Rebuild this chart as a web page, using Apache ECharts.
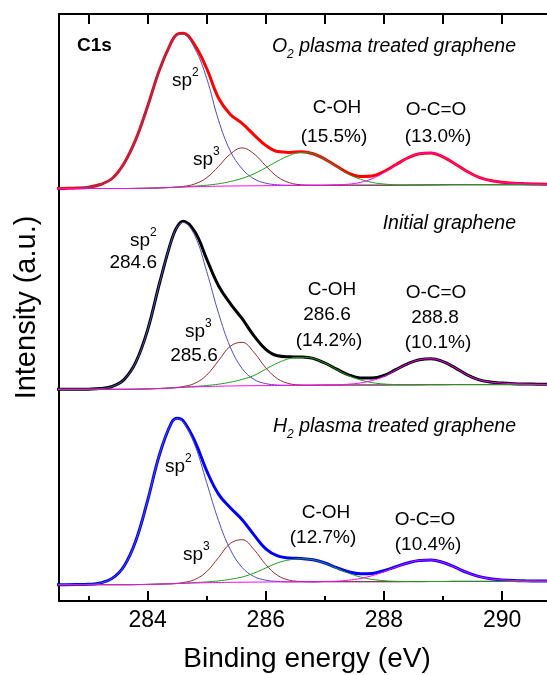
<!DOCTYPE html>
<html>
<head>
<meta charset="utf-8">
<script src="https://cdn.jsdelivr.net/npm/echarts@6.0.0/dist/echarts.min.js"></script>
<style>
  html, body { margin: 0; background: #fff; }
  #chart { width: 547px; height: 675px; }
</style>
</head>
<body>
<div id="chart"></div>
<script>
// binding energy grid (eV)
const energy = [282.4, 282.6, 282.8, 283.0, 283.2, 283.4, 283.6, 283.8, 284.0, 284.2,
  284.4, 284.5, 284.6, 284.8, 285.0, 285.2, 285.4, 285.6, 285.8, 286.0, 286.2,
  286.4, 286.6, 286.8, 287.0, 287.2, 287.4, 287.6, 287.8, 288.0, 288.2,
  288.4, 288.6, 288.8, 289.0, 289.2, 289.4, 289.6, 289.8, 290.0, 290.2,
  290.4, 290.6, 290.8, 291.0, 291.2]

// vertical offset of each spectrum (a.u.): O2, initial, H2
const stackOffsets = [412.5, 211.7, 16.3]

// Shirley backgrounds
const bgO2 = [0, 0, 0, 0, 0, 0, 0, 0.1, 0.3, 0.6, 1.0, 1.2, 1.4, 1.8, 2.1, 2.3, 2.5, 2.6, 2.7, 2.8, 2.9,
  3.0, 3.1, 3.2, 3.2, 3.3, 3.3, 3.3, 3.3, 3.3, 3.3, 3.4, 3.5, 3.6, 3.7, 3.8, 3.8, 3.8, 3.8, 3.8, 3.8,
  3.8, 3.8, 3.8, 3.8, 3.8]
const bgInitial = [0, 0, 0, 0, 0, 0, 0, 0.1, 0.4, 0.8, 1.3, 1.6, 1.9, 2.4, 2.8, 3.1, 3.3, 3.5, 3.6, 3.7, 3.8,
  3.9, 4.0, 4.1, 4.2, 4.2, 4.3, 4.3, 4.3, 4.3, 4.4, 4.4, 4.5, 4.6, 4.6, 4.7, 4.7, 4.7, 4.7, 4.7, 4.7,
  4.7, 4.7, 4.7, 4.7, 4.7]
const bgH2 = [0, 0, 0, 0, 0, 0, 0, 0.1, 0.3, 0.6, 0.9, 1.1, 1.3, 1.7, 2.0, 2.2, 2.4, 2.5, 2.6, 2.7, 2.8,
  2.8, 2.9, 2.9, 3.0, 3.0, 3.0, 3.0, 3.0, 3.0, 3.0, 3.1, 3.1, 3.2, 3.2, 3.3, 3.3, 3.3, 3.3, 3.3, 3.3,
  3.3, 3.3, 3.3, 3.3, 3.3]

// O2 plasma treated graphene
const envO2 = [0, 0.1, 0.4, 1.3, 4, 10, 25, 49, 82, 118, 145.2, 153, 153.9, 141.4, 117.9, 88.2, 71.5, 62.5, 51, 40.3, 34,
  33.1, 33.7, 31.6, 26.2, 18.9, 12, 8.8, 9.3, 13.7, 20.4, 27.1, 31.3, 32, 28, 21, 13.5, 7.5, 4.2, 2.5, 1.5,
  1, 0.6, 0.4, 0.2, 0.1]
const sp2O2 = [0, 0.1, 0.4, 1.3, 4, 10, 25, 49, 82, 118, 145, 152.5, 153, 138, 108, 66, 35, 17, 7, 2.5, 0.8,
  0.3, 0.1, 0, 0, 0, 0, 0, 0, 0, 0, 0, 0, 0, 0, 0, 0, 0, 0, 0, 0,
  0, 0, 0, 0, 0]
const sp3O2 = [0, 0, 0, 0, 0, 0, 0, 0, 0, 0, 0.1, 0.3, 0.6, 2.8, 8.7, 19.8, 32, 38, 32, 19.8, 8.7,
  2.8, 0.6, 0.1, 0, 0, 0, 0, 0, 0, 0, 0, 0, 0, 0, 0, 0, 0, 0, 0, 0,
  0, 0, 0, 0, 0]
const cohO2 = [0, 0, 0, 0, 0, 0, 0, 0, 0, 0, 0.1, 0.2, 0.3, 0.6, 1.2, 2.4, 4.5, 7.5, 12, 18, 24.5,
  30, 33, 31.5, 26, 18.5, 11, 6, 2.8, 1.2, 0.4, 0.1, 0, 0, 0, 0, 0, 0, 0, 0, 0,
  0, 0, 0, 0, 0]
const ocoO2 = [0, 0, 0, 0, 0, 0, 0, 0, 0, 0, 0, 0, 0, 0, 0, 0, 0, 0, 0, 0, 0,
  0, 0, 0, 0.15, 0.4, 1, 2.8, 6.5, 12.5, 20, 27, 31.3, 32, 28, 21, 13.5, 7.5, 4.2, 2.5, 1.5,
  1, 0.6, 0.4, 0.2, 0.1]

// initial graphene
const envInitial = [0, 0, 0, 0.15, 0.7, 2.8, 9.7, 27, 59, 105, 147.1, 160.9, 166.1, 155.1, 127.4, 100.5, 82.4, 67.1, 49.8, 36.3, 29.7,
  28.6, 28.3, 26.8, 22.1, 16, 10.2, 7.1, 6.9, 9.5, 15.3, 21.1, 25, 26, 23, 17, 10, 5, 2.6, 1.5, 0.9,
  0.6, 0.4, 0.3, 0.2, 0.1]
const sp2Initial = [0, 0, 0, 0.15, 0.7, 2.8, 9.7, 27, 59, 105, 147, 160.4, 165, 151, 115, 73, 38.8, 17.2, 6.3, 2, 0.5,
  0.1, 0, 0, 0, 0, 0, 0, 0, 0, 0, 0, 0, 0, 0, 0, 0, 0, 0, 0, 0,
  0, 0, 0, 0, 0]
const sp3Initial = [0, 0, 0, 0, 0, 0, 0, 0, 0, 0, 0.1, 0.3, 0.8, 3.6, 11.4, 25.5, 39.8, 43.5, 33.3, 17.8, 6.7,
  1.7, 0.3, 0, 0, 0, 0, 0, 0, 0, 0, 0, 0, 0, 0, 0, 0, 0, 0, 0, 0,
  0, 0, 0, 0, 0]
const cohInitial = [0, 0, 0, 0, 0, 0, 0, 0, 0, 0, 0, 0.2, 0.3, 0.5, 1, 2, 3.8, 6.4, 10.2, 16.5, 22.5,
  26.8, 28, 26.8, 22, 15.7, 9.4, 5.1, 2.4, 1, 0.3, 0.1, 0, 0, 0, 0, 0, 0, 0, 0, 0,
  0, 0, 0, 0, 0]
const ocoInitial = [0, 0, 0, 0, 0, 0, 0, 0, 0, 0, 0, 0, 0, 0, 0, 0, 0, 0, 0, 0, 0,
  0, 0, 0, 0.1, 0.3, 0.8, 2, 4.5, 8.5, 15, 21, 25, 26, 23, 17, 10, 5, 2.6, 1.5, 0.9,
  0.6, 0.4, 0.3, 0.2, 0.1]

// H2 plasma treated graphene
const envH2 = [0, 0, 0.1, 0.4, 1.7, 6.3, 18.5, 43.9, 84, 129.4, 160.7, 165.4, 162.7, 141.7, 111.9, 88.4, 74.6, 62.4, 47.2, 33.2, 26,
  23.8, 23.3, 22, 18.7, 14, 10, 7.9, 8.3, 11, 14.9, 18.6, 21.2, 21.5, 19, 14.2, 9, 5, 2.6, 1.5, 0.9,
  0.6, 0.4, 0.3, 0.2, 0.1]
const sp2H2 = [0, 0, 0.1, 0.4, 1.7, 6.3, 18.5, 43.9, 84, 129.4, 160.6, 165, 161.7, 137.8, 100, 61.9, 32.7, 14.7, 5.6, 1.8, 0.5,
  0.1, 0, 0, 0, 0, 0, 0, 0, 0, 0, 0, 0, 0, 0, 0, 0, 0, 0, 0, 0,
  0, 0, 0, 0, 0]
const sp3H2 = [0, 0, 0, 0, 0, 0, 0, 0, 0, 0, 0.1, 0.3, 0.8, 3.5, 11.1, 24.9, 38.9, 42.5, 32.6, 17.4, 6.5,
  1.7, 0.3, 0, 0, 0, 0, 0, 0, 0, 0, 0, 0, 0, 0, 0, 0, 0, 0, 0, 0,
  0, 0, 0, 0, 0]
const cohH2 = [0, 0, 0, 0, 0, 0, 0, 0, 0, 0, 0, 0.1, 0.2, 0.4, 0.8, 1.6, 3, 5.2, 9, 14, 19,
  22, 23, 22, 18.5, 13.5, 8.5, 4.7, 2.3, 1, 0.4, 0.1, 0, 0, 0, 0, 0, 0, 0, 0, 0,
  0, 0, 0, 0, 0]
const ocoH2 = [0, 0, 0, 0, 0, 0, 0, 0, 0, 0, 0, 0, 0, 0, 0, 0, 0, 0, 0, 0, 0,
  0, 0, 0, 0.2, 0.5, 1.5, 3.2, 6, 10, 14.5, 18.5, 21.2, 21.5, 19, 14.2, 9, 5, 2.6, 1.5, 0.9,
  0.6, 0.4, 0.3, 0.2, 0.1]

const majorTicks = [284, 286, 288, 290]
const minorTicks = [283, 285, 287, 289]
const topTicks = [283, 284, 285, 286, 287, 288, 289, 290, 291]

const FONT = '"Liberation Sans", Arial, Helvetica, sans-serif'
const compColors = ['#4f4fae', '#8e2e2e', '#1f9e1f', '#ff00ff']

const spectra = [
  {offset: stackOffsets[0], bg: bgO2, env: envO2, comps: [sp2O2, sp3O2, cohO2, ocoO2], color: '#ff0000'},
  {offset: stackOffsets[1], bg: bgInitial, env: envInitial, comps: [sp2Initial, sp3Initial, cohInitial, ocoInitial], color: '#000000'},
  {offset: stackOffsets[2], bg: bgH2, env: envH2, comps: [sp2H2, sp3H2, cohH2, ocoH2], color: '#0000ff'}
]

function toPoints(s, vals) {
  return energy.map((e, i) => [e, s.offset + s.bg[i] + vals[i]])
}

const series = []
spectra.forEach(s => {
  series.push({
    type: 'line', data: toPoints(s, s.env), smooth: 0.4, showSymbol: false,
    lineStyle: {color: s.color, width: 3}
  })
  s.comps.forEach((c, k) => {
    series.push({
      type: 'line', data: toPoints(s, c), smooth: 0.4, showSymbol: false,
      lineStyle: {color: compColors[k], width: 1}
    })
  })
})

// rich text: superscript / subscript
const rich = {
  n: {fontSize: 19, fontFamily: FONT, lineHeight: 28, verticalAlign: 'middle'},
  sup: {fontSize: 12, fontFamily: FONT, verticalAlign: 'top'},
  it: {fontSize: 19.5, fontFamily: FONT, fontStyle: 'italic', lineHeight: 28, verticalAlign: 'middle'},
  sub: {fontSize: 12, fontFamily: FONT, fontStyle: 'italic', verticalAlign: 'bottom'}
}

function txt(x, y, text, align, extra) {
  return {
    type: 'text', x: x, y: y, silent: true, z: 100,
    style: Object.assign({
      text: text, fill: '#000', fontSize: 19, fontFamily: FONT,
      align: align || 'center', verticalAlign: 'middle', rich: rich
    }, extra || {})
  }
}

const labels = [
  txt(77, 46, 'C1s', 'left', {fontWeight: 'bold'}),
  txt(516, 47, '{it|O}{sub|2}{it| plasma treated graphene}', 'right'),
  txt(172, 81, '{n|sp}{sup|2}', 'left'),
  txt(193, 160, '{n|sp}{sup|3}', 'left'),
  txt(337, 108, 'C-OH'),
  txt(334, 137, '(15.5%)'),
  txt(436, 110, 'O-C=O'),
  txt(438, 137, '(13.0%)'),

  txt(516, 224, 'Initial graphene', 'right', {fontSize: 19.5, fontStyle: 'italic'}),
  txt(130, 241, '{n|sp}{sup|2}', 'left'),
  txt(157, 263, '284.6', 'right'),
  txt(185, 332, '{n|sp}{sup|3}', 'left'),
  txt(194, 356, '285.6'),
  txt(332, 290, 'C-OH'),
  txt(327, 315, '286.6'),
  txt(329, 341, '(14.2%)'),
  txt(436, 293, 'O-C=O'),
  txt(435, 318, '288.8'),
  txt(438, 343, '(10.1%)'),

  txt(516, 427, '{it|H}{sub|2}{it| plasma treated graphene}', 'right'),
  txt(165, 467, '{n|sp}{sup|2}', 'left'),
  txt(183, 555, '{n|sp}{sup|3}', 'left'),
  txt(326, 513, 'C-OH'),
  txt(323, 538, '(12.7%)'),
  txt(425, 520, 'O-C=O'),
  txt(428, 545, '(10.4%)')
]

const axisBase = {
  type: 'value', min: 282.5, max: 291.2,
  splitLine: {show: false}
}

const option = {
  animation: false,
  backgroundColor: '#fff',
  grid: {left: 59, top: 14, width: 514, height: 587, outerBoundsMode: 'none'},
  xAxis: [
    Object.assign({}, axisBase, {
      position: 'bottom',
      axisLine: {lineStyle: {color: '#000', width: 2}},
      axisTick: {inside: true, length: 10, customValues: majorTicks, lineStyle: {color: '#000', width: 2}},
      axisLabel: {customValues: majorTicks, color: '#000', fontSize: 23, fontFamily: FONT, margin: 8},
      name: 'Binding energy (eV)', nameLocation: 'middle', nameGap: 44,
      nameTextStyle: {color: '#000', fontSize: 28, fontFamily: FONT, padding: [0, 18, 0, 0]}
    }),
    Object.assign({}, axisBase, {
      position: 'bottom',
      axisLine: {show: false},
      axisTick: {inside: true, length: 5, customValues: minorTicks, lineStyle: {color: '#000', width: 2}},
      axisLabel: {show: false}
    }),
    Object.assign({}, axisBase, {
      position: 'top',
      axisLine: {lineStyle: {color: '#000', width: 2}},
      axisTick: {inside: true, length: 10, customValues: topTicks, lineStyle: {color: '#000', width: 2}},
      axisLabel: {show: false}
    })
  ],
  yAxis: {
    type: 'value', min: 0, max: 587,
    axisLine: {show: true, lineStyle: {color: '#000', width: 2}},
    axisTick: {show: false},
    axisLabel: {show: false},
    splitLine: {show: false},
    name: 'Intensity (a.u.)', nameLocation: 'middle', nameGap: 18,
    nameTextStyle: {color: '#000', fontSize: 29, fontFamily: FONT}
  },
  graphic: labels,
  series: series
}

const chart = echarts.init(document.getElementById('chart'))
chart.setOption(option)
</script>
</body>
</html>
